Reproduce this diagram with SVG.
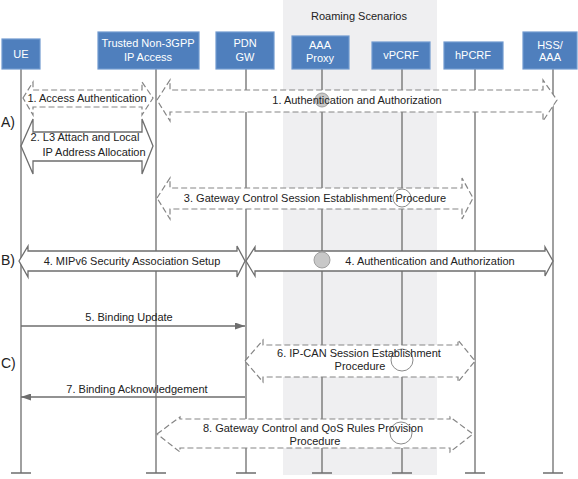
<svg xmlns="http://www.w3.org/2000/svg" width="578" height="479" viewBox="0 0 578 479">
<defs>
<style>
.node rect{fill:#4f7fbd;stroke:#7099cf;stroke-width:1.2}
.node text{fill:#fff;font-family:"Liberation Sans",Arial,sans-serif;font-size:11px;text-anchor:middle}
.life{stroke:#6e6e6e;stroke-width:1.3;fill:none}
.dash{fill:#fff;stroke:#858585;stroke-width:1.2;stroke-dasharray:6,3}
.solid{fill:#fff;stroke:#6e6e6e;stroke-width:1.3}
.msg{stroke:#6e6e6e;stroke-width:1.3;fill:none;marker-end:url(#ah)}
.lbl{fill:#222;font-family:"Liberation Sans",Arial,sans-serif;font-size:11px;text-anchor:middle}
.sec{fill:#222;font-family:"Liberation Sans",Arial,sans-serif;font-size:14px}
.gc{fill:#c8c8c8;stroke:#a0a0a0;stroke-width:1}
.wc{fill:none;stroke:#8a8a8a;stroke-width:1}
</style>
<marker id="ah" markerWidth="10" markerHeight="7" refX="10" refY="3.5" orient="auto" markerUnits="userSpaceOnUse">
<path d="M0,0 L10,3.5 L0,7 Z" fill="#6e6e6e"/>
</marker>
</defs>
<rect x="0" y="0" width="578" height="479" fill="#fff"/>
<rect x="283" y="0" width="154" height="475" fill="#efeff1"/>
<text x="359" y="20" class="lbl">Roaming Scenarios</text>

<g id="lifelines">
<path class="life" d="M21,69 V473 M11,473 H31"/>
<path class="life" d="M156,69 V473 M146,473 H166"/>
<path class="life" d="M246,69 V473 M236,473 H256"/>
<path class="life" d="M322,69 V473 M312,473 H332"/>
<path class="life" d="M402,69 V473 M392,473 H412"/>
<path class="life" d="M475,69 V473 M465,473 H485"/>
<path class="life" d="M553,69 V473 M543,473 H563"/>
</g>

<g id="UE" class="node"><rect x="2" y="39" width="38" height="30"/><text x="21" y="58">UE</text></g>
<g id="TrustedNon3GPP" class="node"><rect x="98" y="32" width="101" height="37"/><text x="148" y="47">Trusted Non-3GPP</text><text x="148" y="61">IP Access</text></g>
<g id="PDNGW" class="node"><rect x="216" y="32" width="58" height="37"/><text x="245" y="47">PDN</text><text x="245" y="61">GW</text></g>
<g id="AAAProxy" class="node"><rect x="292" y="36" width="57" height="33"/><text x="320" y="49">AAA</text><text x="320" y="62">Proxy</text></g>
<g id="vPCRF" class="node"><rect x="372" y="42" width="58" height="27"/><text x="401" y="59">vPCRF</text></g>
<g id="hPCRF" class="node"><rect x="444" y="42" width="59" height="27"/><text x="473" y="59">hPCRF</text></g>
<g id="HSSAAA" class="node"><rect x="523" y="32" width="54" height="37"/><text x="550" y="49">HSS/</text><text x="550" y="61">AAA</text></g>

<g id="connectors">
<path class="dash" d="M23,98 L33,82 L33,90 L142,90 L142,82 L153,98 L142,115 L142,107 L33,107 L33,115 Z"/>
<path class="dash" d="M157,100 L170,80 L170,90 L543,90 L543,80 L557,100 L543,121 L543,112 L170,112 L170,121 Z"/>
<path class="solid" d="M21,146 L33,119 L33,132 L142,132 L142,119 L153,146 L142,174 L142,161 L33,161 L33,174 Z"/>
<path class="dash" d="M157,198 L170,178 L170,188 L462,188 L462,178 L473,198 L462,219 L462,209 L170,209 L170,219 Z"/>
<path class="solid" d="M19,261 L28,246 L28,251 L237,251 L237,246 L245,261 L237,277 L237,271 L28,271 L28,277 Z"/>
<path class="solid" d="M246,261 L255,247 L255,251 L545,251 L545,247 L553,261 L545,276 L545,271 L255,271 L255,276 Z"/>
<line class="msg" x1="21" y1="326" x2="245" y2="326"/>
<path class="dash" d="M245,361 L263,340 L263,345 L458,345 L458,340 L475,361 L458,382 L458,377 L263,377 L263,382 Z"/>
<line class="msg" x1="245" y1="397" x2="21" y2="397"/>
<path class="dash" d="M157,434 L180,417 L180,419 L450,419 L450,417 L473,434 L450,452 L450,448 L180,448 L180,452 Z"/>
<circle class="gc" cx="322" cy="100" r="7"/>
<circle class="gc" cx="322" cy="260" r="8"/>
<circle class="wc" cx="402" cy="198" r="9"/>
<circle class="wc" cx="402" cy="360" r="11"/>
<circle class="wc" cx="401" cy="433" r="11"/>
</g>

<g id="labels">
<text class="lbl" x="87" y="102">1. Access Authentication</text>
<text class="lbl" x="357" y="104">1. Authentication and Authorization</text>
<text class="lbl" x="85" y="141">2. L3 Attach and Local</text>
<text class="lbl" x="94" y="156">IP Address Allocation</text>
<text class="lbl" x="315" y="202">3. Gateway Control Session Establishment Procedure</text>
<text class="lbl" x="132" y="265">4. MIPv6 Security Association Setup</text>
<text class="lbl" x="430" y="265">4. Authentication and Authorization</text>
<text class="lbl" x="129" y="321">5. Binding Update</text>
<text class="lbl" x="359" y="357">6. IP-CAN Session Establishment</text>
<text class="lbl" x="360" y="370">Procedure</text>
<text class="lbl" x="137" y="393">7. Binding Acknowledgement</text>
<text class="lbl" x="313" y="432">8. Gateway Control and QoS Rules Provision</text>
<text class="lbl" x="315" y="445">Procedure</text>
<text class="sec" x="1" y="127">A)</text>
<text class="sec" x="1" y="265">B)</text>
<text class="sec" x="1" y="368">C)</text>
</g>
</svg>
